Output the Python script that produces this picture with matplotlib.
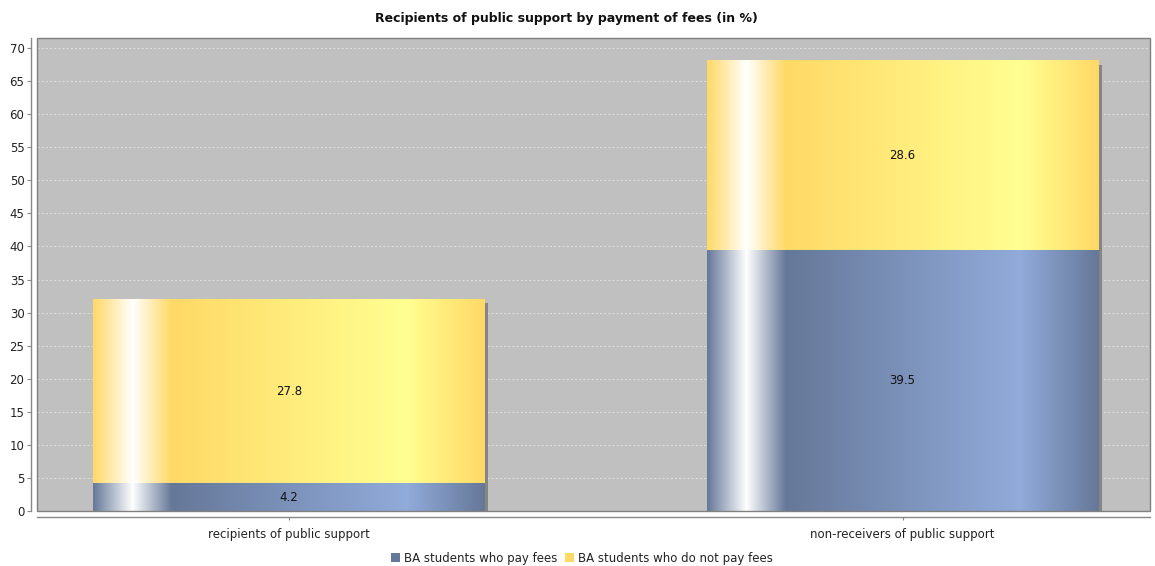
import numpy as np
import matplotlib
matplotlib.use("Agg")
import matplotlib.pyplot as plt
import matplotlib.patches as mpatches
import matplotlib.transforms as mtransforms

# data
categories = ["recipients of public support", "non-receivers of public support"]
series_names = ["BA students who pay fees", "BA students who do not pay fees"]
pay_fees = [4.2, 39.5]
no_fees = [27.8, 28.6]
y_ticks = list(range(0, 75, 5))

base_colors = [(102, 120, 153), (255, 217, 102)]
bar_width = 0.637


def brighter(c):
    # same as java.awt.Color.brighter()
    return tuple(min(255, int(v / 0.7)) for v in c)


def gradient_row(base, n=400, g1=0.10, g2=0.20, g3=0.80):
    """Horizontal gradient like JFreeChart's GradientBarPainter."""
    c0 = np.array(base, float) / 255
    c1 = np.array(brighter(base), float) / 255
    white = np.ones(3)
    t = np.linspace(0, 1, n)
    out = np.zeros((n, 3))
    for i, x in enumerate(t):
        if x < g1:
            f = x / g1
            out[i] = c0 + (white - c0) * f
        elif x < g2:
            f = (x - g1) / (g2 - g1)
            out[i] = white + (c0 - white) * f
        elif x < g3:
            f = (x - g2) / (g3 - g2)
            out[i] = c0 + (c1 - c0) * f
        else:
            f = (x - g3) / (1 - g3)
            out[i] = c1 + (c0 - c1) * f
    return out[np.newaxis, :, :]


fig = plt.figure(figsize=(11.55, 5.66), dpi=100)
ax = fig.add_axes([37 / 1155, 55 / 566, 1113 / 1155, 473.5 / 566])
ax.set_facecolor("#c0c0c0")

x = np.arange(len(categories))

# grid
for t in y_ticks:
    ax.axhline(t, color="#e4e4e4", lw=0.6, ls=(0, (2.5, 2.5)), zorder=1)

shadow_off = mtransforms.ScaledTranslation(4 / 100, -4 / 100, fig.dpi_scale_trans)
for i, xi in enumerate(x):
    x0, x1 = xi - bar_width / 2, xi + bar_width / 2
    total = pay_fees[i] + no_fees[i]
    sh = mpatches.Rectangle((x0, 0), bar_width, total, facecolor="#858585",
                            edgecolor="none", zorder=2,
                            transform=ax.transData + shadow_off)
    ax.add_patch(sh)
    bottom = 0
    for vals, base in zip([pay_fees, no_fees], base_colors):
        v = vals[i]
        ax.imshow(gradient_row(base), extent=(x0, x1, bottom, bottom + v),
                  aspect="auto", interpolation="bilinear", zorder=3)
        ax.text(xi, bottom + v / 2, f"{v:.1f}", ha="center", va="center",
                fontsize=8.5, color="#111111", zorder=5)
        bottom += v

ax.set_xlim(-0.41, 1.403)
ax.set_ylim(0, 71.6)

# plot outline
ax.add_patch(mpatches.Rectangle((0, 0), 1, 1, transform=ax.transAxes,
                                fill=False, edgecolor="#808080", lw=1,
                                zorder=6, clip_on=False))

for s in ["top", "right"]:
    ax.spines[s].set_visible(False)
for s in ["left", "bottom"]:
    ax.spines[s].set_position(("outward", 4))
    ax.spines[s].set_color("#888888")
    ax.spines[s].set_linewidth(1)

ax.set_yticks(y_ticks)
ax.set_yticklabels([str(t) for t in y_ticks])
ax.set_xticks(x)
ax.set_xticklabels(categories)
ax.tick_params(axis="y", length=3, width=0.8, color="#888888", labelsize=8.5,
               labelcolor="#222222", pad=2)
ax.tick_params(axis="x", length=2, width=0.8, color="#888888", labelsize=8.5,
               labelcolor="#222222", pad=6)

fig.text(0.49, 0.967, "Recipients of public support by payment of fees (in %)",
         ha="center", va="center", fontsize=9, fontweight="bold", color="#111111")

handles = [mpatches.Patch(facecolor="#%02x%02x%02x" % c, edgecolor="none")
           for c in base_colors]
fig.legend(handles, series_names, loc="center", bbox_to_anchor=(0.504, 0.014),
           ncol=2, frameon=False, fontsize=8.5, handlelength=0.75,
           handleheight=0.75, handletextpad=0.4, columnspacing=0.6,
           labelcolor="#222222")

fig.savefig("out.png", dpi=100)
